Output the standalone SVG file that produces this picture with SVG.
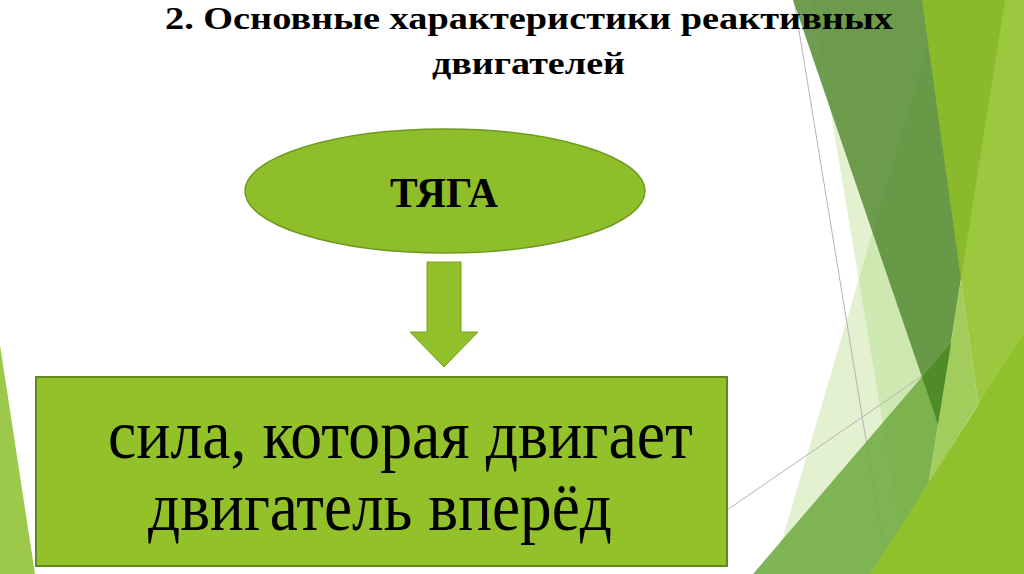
<svg xmlns="http://www.w3.org/2000/svg" width="1024" height="574" viewBox="0 0 1024 574">
<style>
.pale{fill:#a3cf68;opacity:.3}
.gl{stroke:#b4b4b4;stroke-width:1;fill:none}
.title{font-weight:bold;fill:#000}
.body{fill:#000}
</style>
<rect width="1024" height="574" fill="#ffffff"/>
<g id="decor">
<polygon points="0,345 35,574 0,574" fill="#9cc84c"/>
<polygon class="pale" points="812,0 1024,0 1024,574 908,574"/>
<polygon class="pale" points="941,0 1024,0 1024,574 772,574"/>
<line class="gl" x1="794" y1="0" x2="888" y2="574"/>
<line class="gl" x1="727" y1="510" x2="1024" y2="306"/>
<polygon points="793,0 1005,0 938,424" fill="#5a8e38" opacity="0.88"/>
<polygon points="922,0 1024,0 1024,574 1002,574" fill="#8fc124" opacity="0.82"/>
<polygon points="961,280 978,404 929,482" fill="#a2cc5c"/>
<polygon points="753,574 951,343 914,574" fill="#72ad45" opacity="0.9"/>
<polygon points="922,377 951,343 938,424" fill="#4f8c28"/>
<polygon points="870,574 1024,333 1024,574" fill="#8fc12d"/>
</g>
<g id="connectors">
<polygon id="arrow" points="427,262 461,262 461,332 478,332 444,367 410,332 427,332" fill="#92c02a" stroke="#76a01f" stroke-width="1"/>
</g>
<g id="title">
<text class="title" font-family="'Liberation Serif', 'DejaVu Serif', serif" x="165" y="29" font-size="32" textLength="728" lengthAdjust="spacingAndGlyphs">2. Основные характеристики реактивных</text>
<text class="title" font-family="'Liberation Serif', 'DejaVu Serif', serif" x="432" y="74" font-size="32" textLength="193" lengthAdjust="spacingAndGlyphs">двигателей</text>
</g>
<g id="node-tyaga">
<ellipse cx="445" cy="191" rx="200" ry="62" fill="#8fbe2b" stroke="#6e9a1e" stroke-width="1.5"/>
<text class="title" font-family="'Liberation Serif', 'DejaVu Serif', serif" x="390" y="207" font-size="42" textLength="108" lengthAdjust="spacingAndGlyphs">ТЯГА</text>
</g>
<g id="node-definition">
<rect x="36" y="377" width="691" height="189" fill="#93c12a" stroke="#5f8a1d" stroke-width="2"/>
<text class="body" font-family="'Liberation Serif', 'DejaVu Serif', serif" x="108" y="458" font-size="70" textLength="585" lengthAdjust="spacingAndGlyphs">сила, которая двигает</text>
<text class="body" font-family="'Liberation Serif', 'DejaVu Serif', serif" x="148" y="530" font-size="70" textLength="464" lengthAdjust="spacingAndGlyphs">двигатель вперёд</text>
</g>
</svg>
